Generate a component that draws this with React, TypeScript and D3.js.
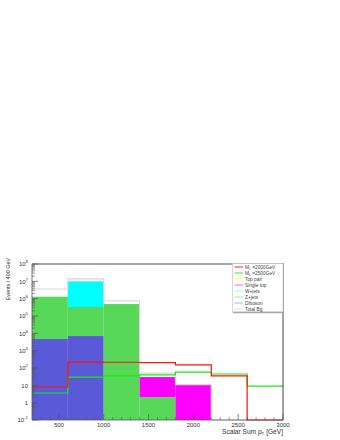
import React from 'react';
import * as d3 from 'd3';

// bin edges in GeV (400 GeV wide)
const edges = [200, 600, 1000, 1400, 1800, 2200, 2600, 3000];

// backgrounds, stacked bottom -> top
const diboson = [4700, 7000, 0, 0, 0, 0, 0];
const zjets = [1295000, 323000, 490000, 2.1, 0, 0, 0];
const singleTop = [0, 0, 0, 28, 10.5, 0, 0];
const wjets = [0, 9700000, 0, 0, 0, 0, 0];
const totalBg = [3600000, 14000000, 740000, 50, 11, 0, 0];

// signals
const sig2000 = [8, 220, 215, 205, 150, 35, 0];
const sig2500 = [3.6, 30, 35, 40, 58, 45, 9];

const xTicks = [500, 1000, 1500, 2000, 2500, 3000];
const yPowers = [-1, 0, 1, 2, 3, 4, 5, 6, 7, 8];

const legendItems = [
  {label: 'M', sub: 'L', rest: ' =2000GeV', color: '#ff2020'},
  {label: 'M', sub: 'L', rest: ' =2500GeV', color: '#20ff20'},
  {label: 'Top pair', color: '#ffff40'},
  {label: 'Single top', color: '#ff60ff'},
  {label: 'W+jets', color: '#80ffff'},
  {label: 'Z+jets', color: '#a0e8a0'},
  {label: 'Diboson', color: '#b0b0ff'},
  {label: 'Total Bg', color: '#e0e0e0'},
];

const stackKeys = ['diboson', 'zjets', 'singleTop', 'wjets'];
const fills: Record<string, string> = {
  diboson: '#5a5ad8',
  zjets: '#58d858',
  singleTop: '#ff00ff',
  wjets: '#00ffff',
};

const W = 340, H = 440;
const L = 32, R = 283, T = 264, B = 420;
const font = '"Liberation Sans", Arial, sans-serif';

export default function App() {
  const x = d3.scaleLinear().domain([200, 3000]).range([L, R]);
  const y = d3.scaleLog().domain([0.1, 1e8]).range([B, T]).clamp(true);

  const rows = edges.slice(0, -1).map((e, i) => ({
    lo: e, hi: edges[i + 1],
    diboson: diboson[i], zjets: zjets[i], singleTop: singleTop[i], wjets: wjets[i],
  }));
  const stacked = d3.stack<any>().keys(stackKeys)(rows);

  const stepLine = (vals: number[]) => {
    const pts: [number, number][] = vals.map((v, i) => [edges[i], v]);
    pts.push([edges[edges.length - 1], vals[vals.length - 1]]);
    return d3.line<[number, number]>()
      .x(d => x(d[0]))
      .y(d => y(Math.max(d[1], 0.1)))
      .curve(d3.curveStepAfter)(pts) || '';
  };

  const minorY: number[] = [];
  for (let k = -1; k < 8; k++) for (let m = 2; m <= 9; m++) minorY.push(m * Math.pow(10, k));
  const minorX = d3.range(300, 3000, 100).filter(v => v % 500 !== 0);

  const yLabel = (p: number) => {
    if (p === 0) return <tspan>1</tspan>;
    if (p === 1) return <tspan>10</tspan>;
    return <><tspan>10</tspan><tspan dy={-3} fontSize={4.3}>{p}</tspan></>;
  };

  return (
    <svg width={W} height={H} style={{position: 'absolute', left: 0, top: 0, background: '#fff'}}
         fontFamily={font}>
      {/* stacked backgrounds */}
      {stacked.map(s => (
        <g key={s.key}>
          {s.map((d, i) => d[1] - d[0] > 0 ? (
            <rect key={i} x={x(rows[i].lo)} width={x(rows[i].hi) - x(rows[i].lo)}
                  y={y(d[1])} height={y(Math.max(d[0], 0.1)) - y(d[1])}
                  fill={fills[s.key]} />
          ) : null)}
        </g>
      ))}
      {/* total background outline */}
      <path d={stepLine(totalBg)} fill="none" stroke="#d8d8d8" strokeWidth={1.2} />
      {/* signals */}
      <path d={stepLine(sig2500)} fill="none" stroke="#10ee10" strokeWidth={1.2} />
      <path d={stepLine(sig2000)} fill="none" stroke="#ff1010" strokeWidth={1.2} />

      {/* frame */}
      <line x1={L} x2={R} y1={T} y2={T} stroke="#888" strokeWidth={1.5} />
      <line x1={R} x2={R} y1={T - 1} y2={B} stroke="#444" strokeWidth={1} />
      <line x1={L} x2={L} y1={T} y2={B} stroke="#555" strokeWidth={0.8} />
      <line x1={L} x2={R} y1={B} y2={B} stroke="#555" strokeWidth={0.8} />

      {/* y axis ticks */}
      {minorY.map(v => (
        <line key={'my' + v} x1={L} x2={L + 3} y1={y(v)} y2={y(v)} stroke="#555" strokeWidth={0.6} />
      ))}
      {yPowers.map(p => (
        <g key={'y' + p}>
          <line x1={L} x2={L + 6} y1={y(Math.pow(10, p))} y2={y(Math.pow(10, p))} stroke="#555" strokeWidth={0.7} />
          <text x={L - 4} y={y(Math.pow(10, p)) + 2.3} fontSize={6} textAnchor="end" fill="#333">
            {yLabel(p)}
          </text>
        </g>
      ))}

      {/* x axis ticks */}
      {minorX.map(v => (
        <line key={'mx' + v} x1={x(v)} x2={x(v)} y1={B} y2={B - 3} stroke="#555" strokeWidth={0.6} />
      ))}
      {xTicks.map(v => (
        <g key={'x' + v}>
          <line x1={x(v)} x2={x(v)} y1={B} y2={B - 6} stroke="#555" strokeWidth={0.7} />
          <text x={x(v)} y={B + 6.8} fontSize={6} textAnchor="middle" fill="#333">{v}</text>
        </g>
      ))}

      {/* axis titles */}
      <text x={R} y={B + 13.5} fontSize={6.6} textAnchor="end" fill="#333">
        Scalar Sum p<tspan dy={1.5} fontSize={4.4}>T</tspan><tspan dy={-1.5}> [GeV]</tspan>
      </text>
      <text transform={`translate(10,258) rotate(-90)`} fontSize={5.4} textAnchor="end" fill="#333">
        Events / 400 GeV
      </text>

      {/* legend */}
      <rect x={232.5} y={263.5} width={50.5} height={48.5} fill="#fff" stroke="#bbb" strokeWidth={0.6} />
      <line x1={233} x2={283} y1={312.5} y2={312.5} stroke="#aaa" strokeWidth={1.5} />
      {legendItems.map((it, i) => {
        const ly = 267 + i * 6;
        return (
          <g key={it.label + i}>
            <line x1={234.5} x2={243} y1={ly} y2={ly} stroke={it.color} strokeWidth={1} />
            <text x={245} y={ly + 1.8} fontSize={4.8} fill="#444">
              {it.label}
              {it.sub ? <tspan dy={1} fontSize={3.4}>{it.sub}</tspan> : null}
              {it.rest ? <tspan dy={-1}>{it.rest}</tspan> : null}
            </text>
          </g>
        );
      })}
    </svg>
  );
}
